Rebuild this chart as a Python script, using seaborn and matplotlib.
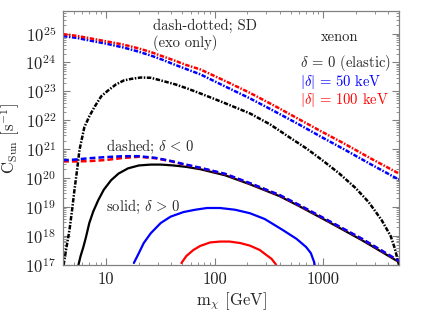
import numpy as np
import matplotlib
matplotlib.use("Agg")
import matplotlib.pyplot as plt
import matplotlib.ticker as mticker
import seaborn as sns

# values (mass in GeV, log10 of C_Sun in 1/s)
m_si_elastic = [5.55, 5.8, 6.16, 6.5, 6.99, 7.6, 8.45, 9.5, 11.1, 13, 15.9, 20, 25.7, 32, 41.7, 55,
                73.7, 125, 211, 396, 604, 1135, 2270, 5000]
logC_si_elastic = [17.0, 17.3, 17.62, 17.95, 18.45, 18.85, 19.24, 19.6, 19.93, 20.16, 20.34, 20.44,
                   20.47, 20.47, 20.44, 20.39, 20.31, 20.10, 19.79, 19.38, 19.03, 18.48, 17.86, 17.10]

m_si_50_pos = [18.0, 20.0, 22.2, 25.8, 31.8, 39.2, 51.6, 66.2, 85, 112, 154, 211, 289, 424, 570, 697,
               770, 826, 840]
logC_si_50_pos = [17.07, 17.41, 17.76, 18.10, 18.45, 18.67, 18.83, 18.91, 18.97, 18.97, 18.91, 18.79,
                  18.59, 18.21, 17.90, 17.62, 17.41, 17.10, 16.95]

m_si_100_pos = [49.4, 54.8, 63.7, 73.7, 91, 112, 137, 171, 211, 260, 301, 335, 365, 372]
logC_si_100_pos = [17.07, 17.31, 17.52, 17.66, 17.78, 17.81, 17.81, 17.76, 17.67, 17.52, 17.34, 17.21,
                   17.03, 16.95]

m_si_neg = [4.0, 5.0, 7.0, 10, 14.3, 20, 28.6, 40, 50, 73.7, 125, 211, 396, 604, 1135, 2270, 5000]
logC_si_50_neg = [20.62, 20.64, 20.69, 20.73, 20.76, 20.76, 20.70, 20.59, 20.50, 20.36, 20.15, 19.83,
                  19.42, 19.07, 18.52, 17.91, 17.14]
logC_si_100_neg = [20.58, 20.58, 20.59, 20.63, 20.70, 20.74, 20.69, 20.58, 20.49, 20.35, 20.14, 19.82,
                   19.41, 19.06, 18.51, 17.90, 17.13]

m_sd_elastic = [4.05, 4.3, 4.59, 4.85, 5.10, 5.4, 5.67, 6.29, 7.0, 7.77, 9.0, 10.4, 12.3, 14.6, 16.9,
                20.9, 25.8, 31.8, 43.6, 55.9, 73.7, 125, 211, 324, 490, 700, 983, 1400, 1990, 2630,
                3460, 4190, 4560, 5000]
logC_sd_elastic = [17.0, 17.6, 18.21, 18.9, 19.59, 20.3, 20.97, 21.76, 22.14, 22.45, 22.83, 23.03,
                   23.24, 23.38, 23.43, 23.48, 23.47, 23.38, 23.24, 23.10, 22.93, 22.59, 22.24, 21.86,
                   21.41, 21.03, 20.62, 20.17, 19.66, 19.17, 18.55, 18.0, 17.59, 17.0]

m_sd_inel = [4.0, 5.33, 6.99, 10, 14.3, 18.8, 25.8, 33.2, 41.7, 54.9, 73.7, 125, 211, 357, 604, 957,
             1556, 2750, 5000]
logC_sd_50 = [24.91, 24.85, 24.76, 24.65, 24.52, 24.40, 24.24, 24.09, 23.94, 23.77, 23.59, 23.17,
              22.76, 22.31, 21.85, 21.43, 21.00, 20.48, 19.95]
logC_sd_100 = [24.98, 24.92, 24.84, 24.73, 24.62, 24.51, 24.36, 24.21, 24.08, 23.91, 23.76, 23.36,
               22.95, 22.50, 22.03, 21.62, 21.20, 20.68, 20.16]

sns.set_style("ticks")
plt.rcParams["font.family"] = ["cmr10", "DejaVu Serif"]
plt.rcParams["mathtext.fontset"] = "cm"
plt.rcParams["axes.formatter.use_mathtext"] = True
plt.rcParams["axes.unicode_minus"] = False
plt.rcParams["lines.scale_dashes"] = False

fig = plt.figure(figsize=(4.21, 3.16), dpi=100)
ax = fig.add_axes([63 / 421, 51 / 316, 336 / 421, 254 / 316])

dashdot = (0, (3.2, 1.1, 1.1, 1.1))
dashed = (0, (4.2, 2.2))

curves = [
    (m_sd_elastic, logC_sd_elastic, "black", dashdot, 1.8),
    (m_sd_inel, logC_sd_50, "blue", dashdot, 1.8),
    (m_sd_inel, logC_sd_100, "red", dashdot, 1.8),
    (m_si_elastic, logC_si_elastic, "black", "-", 1.6),
    (m_si_50_pos, logC_si_50_pos, "blue", "-", 1.6),
    (m_si_100_pos, logC_si_100_pos, "red", "-", 1.6),
    (m_si_neg, logC_si_100_neg, "red", dashed, 1.8),
    (m_si_neg, logC_si_50_neg, "blue", dashed, 1.8),
]
for m, logc, col, ls, lw in curves:
    sns.lineplot(x=np.array(m), y=10 ** np.array(logc), color=col, linestyle=ls, lw=lw,
                 estimator=None, sort=False, ax=ax)

ax.set_xscale("log")
ax.set_yscale("log")
ax.set_xlim(4, 5000)
ax.set_ylim(1e17, 6e25)

ax.xaxis.set_major_locator(mticker.FixedLocator([10, 100, 1000]))
ax.xaxis.set_major_formatter(mticker.FixedFormatter(["10", "100", "1000"]))
ax.xaxis.set_minor_locator(mticker.LogLocator(subs=np.arange(2, 10), numticks=100))
ax.xaxis.set_minor_formatter(mticker.NullFormatter())
ax.yaxis.set_major_locator(mticker.LogLocator(numticks=100))
ax.yaxis.set_minor_locator(mticker.LogLocator(subs=np.arange(2, 10), numticks=100))
ax.yaxis.set_minor_formatter(mticker.NullFormatter())

frame = "#808080"
for s in ax.spines.values():
    s.set_color(frame)
    s.set_linewidth(0.9)
ax.tick_params(which="both", direction="in", top=True, right=True, color=frame, labelsize=12,
               labelcolor="#222222")
ax.tick_params(which="major", length=5, width=0.8, pad=5)
ax.tick_params(which="minor", length=2.5, width=0.6)

ax.set_xlabel(r"$\mathrm{m}_\chi$ [GeV]", fontsize=12, labelpad=2)
ax.set_ylabel(r"$\mathrm{C}_{\mathrm{Sun}}$ $[\mathrm{s}^{-1}]$", fontsize=12, labelpad=2)

tf = ax.transAxes
fs = 10.5
ax.text(0.268, 0.941, "dash-dotted; SD", transform=tf, fontsize=fs, va="center")
ax.text(0.268, 0.874, "(exo only)", transform=tf, fontsize=fs, va="center")
ax.text(0.824, 0.898, "xenon", transform=tf, fontsize=fs, va="center", ha="center")
ax.text(0.705, 0.795, r"$\delta\,=\,0$ (elastic)", transform=tf, fontsize=fs, va="center")
ax.text(0.705, 0.720, r"$|\delta|\,=\,50$ keV", transform=tf, fontsize=fs, va="center", color="blue")
ax.text(0.705, 0.650, r"$|\delta|\,=\,100$ keV", transform=tf, fontsize=fs, va="center", color="red")
ax.text(0.128, 0.465, r"dashed; $\delta\,<\,0$", transform=tf, fontsize=fs, va="center")
ax.text(0.128, 0.228, r"solid; $\delta\,>\,0$", transform=tf, fontsize=fs, va="center")

fig.savefig("out.png", dpi=100)
